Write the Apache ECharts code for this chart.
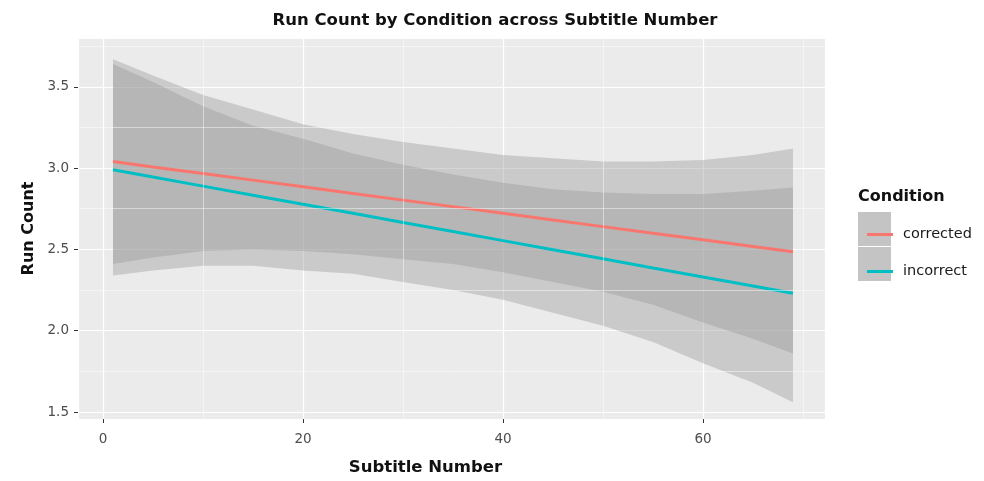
<!DOCTYPE html>
<html>
<head>
<meta charset="utf-8">
<script src="https://cdn.jsdelivr.net/npm/echarts@6/dist/echarts.min.js"></script>
<style>
    html, body { margin: 0; padding: 0; background: #fff; }
    #main { width: 984px; height: 481px; }
</style>
</head>
<body>
<div id="main"></div>
<script>
// 数据 (读自图片)
let subtitleNums = [1, 5, 10, 15, 20, 25, 30, 35, 40, 45, 50, 55, 60, 65, 69]
let correctedFit = [3.040, 3.007, 2.967, 2.926, 2.885, 2.844, 2.803, 2.763, 2.722, 2.681, 2.640, 2.599, 2.559, 2.518, 2.485]
let correctedUpper = [3.67, 3.57, 3.45, 3.36, 3.27, 3.21, 3.16, 3.12, 3.08, 3.06, 3.04, 3.04, 3.05, 3.08, 3.12]
let correctedLower = [2.41, 2.45, 2.49, 2.50, 2.49, 2.47, 2.44, 2.41, 2.36, 2.30, 2.24, 2.16, 2.05, 1.95, 1.86]
let incorrectFit = [2.990, 2.945, 2.889, 2.833, 2.778, 2.722, 2.666, 2.610, 2.554, 2.498, 2.442, 2.386, 2.330, 2.275, 2.230]
let incorrectUpper = [3.64, 3.53, 3.38, 3.26, 3.18, 3.09, 3.02, 2.96, 2.91, 2.87, 2.85, 2.84, 2.84, 2.86, 2.88]
let incorrectLower = [2.34, 2.37, 2.40, 2.40, 2.37, 2.35, 2.30, 2.25, 2.19, 2.11, 2.03, 1.93, 1.80, 1.68, 1.56]
let minorX = [10, 30, 50, 70]
let minorY = [1.75, 2.25, 2.75, 3.25, 3.75]

const RED = '#F8766D'
const TEAL = '#00BFC4'
const BAND = 'rgba(153,153,153,0.4)'
const FONT = 'DejaVu Sans'

function pairs (ys) {
    return subtitleNums.map((x, i) => [x, ys[i]])
}

// 置信带: 用 custom 系列画多边形 (上边界 + 反向的下边界)
function bandSeries (name, up, low) {
    return {
        name: name, type: 'custom', silent: true, z: 1,
        data: subtitleNums.map((x, i) => [x, up[i], low[i]]),
        encode: { x: 0, y: [1, 2] },
        renderItem: function (params, api) {
            if (params.dataIndex !== 0) {
                return
            }
            let pts = []
            subtitleNums.forEach((x, i) => pts.push(api.coord([x, up[i]])))
            for (let i = subtitleNums.length - 1; i >= 0; i--) {
                pts.push(api.coord([subtitleNums[i], low[i]]))
            }
            return {
                type: 'polygon',
                shape: { points: pts },
                style: { fill: BAND }
            }
        }
    }
}

let minorLines = minorX.map(v => ({ xAxis: v })).concat(minorY.map(v => ({ yAxis: v })))

let myChart = echarts.init(document.getElementById('main'))
myChart.setOption({
    animation: false,
    title: {
        text: 'Run Count by Condition across Subtitle Number',
        left: 490, top: 7, textAlign: 'center',
        textStyle: { fontFamily: FONT, fontWeight: 'bold', fontSize: 16.5, color: '#111' }
    },
    grid: {
        left: 78, right: 159, top: 38, bottom: 62,
        show: true, backgroundColor: '#EBEBEB', borderWidth: 0
    },
    xAxis: {
        type: 'value', min: -2.5, max: 72.2, splitNumber: 4,
        name: 'Subtitle Number', nameLocation: 'middle', nameGap: 40,
        nameTextStyle: { fontFamily: FONT, fontWeight: 'bold', fontSize: 16.5, color: '#111', padding: [0, 52, 0, 0] },
        axisLine: { show: false, onZero: false },
        axisTick: { show: true, length: 4, lineStyle: { color: '#333' } },
        axisLabel: { showMinLabel: false, showMaxLabel: false, margin: 13, fontFamily: FONT, fontSize: 13.5, color: '#4D4D4D' },
        splitLine: { show: true, lineStyle: { color: '#fff', width: 1.2 } }
    },
    yAxis: {
        type: 'value', min: 1.457, max: 3.8, splitNumber: 4,
        name: 'Run Count', nameLocation: 'middle', nameGap: 38,
        nameTextStyle: { fontFamily: FONT, fontWeight: 'bold', fontSize: 16, color: '#111' },
        axisLine: { show: false, onZero: false },
        axisTick: { show: true, length: 4, lineStyle: { color: '#333' } },
        axisLabel: { showMinLabel: false, showMaxLabel: false, margin: 9, fontFamily: FONT, fontSize: 13.5, color: '#4D4D4D',
            formatter: v => v.toFixed(1) },
        splitLine: { show: true, lineStyle: { color: '#fff', width: 1.2 } }
    },
    legend: {
        data: ['corrected', 'incorrect'],
        orient: 'vertical', left: 862, top: 222,
        icon: 'rect', itemWidth: 26, itemHeight: 3, itemGap: 22,
        textStyle: { fontFamily: FONT, fontSize: 14.5, color: '#1a1a1a', padding: [0, 0, 0, 5] }
    },
    graphic: [
        { type: 'text', left: 858, top: 189, z: 5,
          style: { text: 'Condition', fontFamily: FONT, fontWeight: 'bold', fontSize: 16, fill: '#111' } },
        { type: 'rect', left: 858, top: 212, z: 1, shape: { width: 33, height: 34 }, style: { fill: '#C4C4C4' } },
        { type: 'rect', left: 858, top: 247, z: 1, shape: { width: 33, height: 34 }, style: { fill: '#C4C4C4' } }
    ],
    series: [
        {
            name: 'minor', type: 'line', data: [], silent: true,
            markLine: {
                silent: true, symbol: 'none', label: { show: false },
                lineStyle: { color: '#fff', width: 0.6, type: 'solid', opacity: 0.8 },
                data: minorLines
            }
        },
        bandSeries('correctedBand', correctedUpper, correctedLower),
        bandSeries('incorrectBand', incorrectUpper, incorrectLower),
        {
            name: 'corrected', type: 'line', data: pairs(correctedFit),
            symbol: 'none', color: RED, lineStyle: { color: RED, width: 3 }, z: 3
        },
        {
            name: 'incorrect', type: 'line', data: pairs(incorrectFit),
            symbol: 'none', color: TEAL, lineStyle: { color: TEAL, width: 3 }, z: 3
        }
    ]
})
</script>
</body>
</html>
